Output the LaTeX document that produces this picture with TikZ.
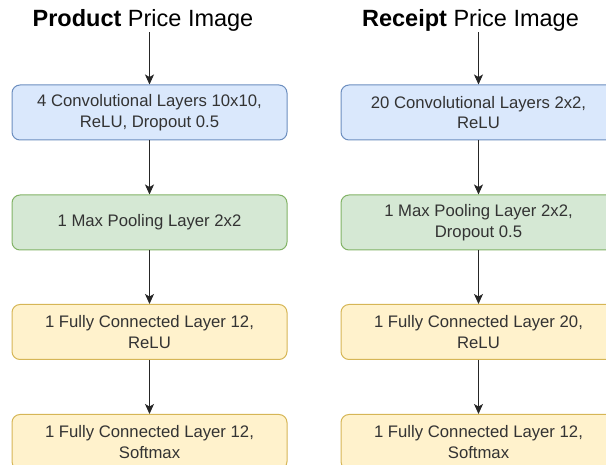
\documentclass[tikz,border=0pt]{standalone}
\usepackage{fontspec}
\setmainfont{Liberation Sans}
\usetikzlibrary{arrows.meta}
\definecolor{txt}{HTML}{333333}
\definecolor{bluefill}{HTML}{DAE8FC}
\definecolor{bluedraw}{HTML}{6C8EBF}
\definecolor{greenfill}{HTML}{D5E8D4}
\definecolor{greendraw}{HTML}{82B366}
\definecolor{yellowfill}{HTML}{FFF2CC}
\definecolor{yellowdraw}{HTML}{D6B656}
\tikzset{
  layer/.style={rectangle, rounded corners=8pt, line width=1pt, minimum width=275pt, minimum height=55pt,
    align=center, text=txt, font=\fontsize{16.7}{20.5}\selectfont, inner sep=0pt},
  bluebox/.style={layer, fill=bluefill, draw=bluedraw},
  greenbox/.style={layer, fill=greenfill, draw=greendraw},
  yellowbox/.style={layer, fill=yellowfill, draw=yellowdraw},
  title/.style={anchor=base, inner sep=0pt, text=black, font=\fontsize{23.5}{27}\selectfont},
  arr/.style={line width=1pt, draw=black!85, -{Stealth[length=10pt,width=9pt,inset=2.5pt]}}
}
\begin{document}
\begin{tikzpicture}[x=1pt,y=1pt]
\clip (0,0) rectangle (606,-465);
% titles
\node[title] (t1) at (143,-27) {\textbf{Product} Price Image};
\node[title] (t2) at (470.5,-27) {\textbf{Receipt} Price Image};
% left column
\node[bluebox] (l1) at (149.5,-112.5) {4 Convolutional Layers 10x10,\\ReLU, Dropout 0.5};
\node[greenbox] (l2) at (149.5,-222.5) {1 Max Pooling Layer 2x2};
\node[yellowbox] (l3) at (149.5,-332) {1 Fully Connected Layer 12,\\ReLU};
\node[yellowbox] (l4) at (149.5,-442) {1 Fully Connected Layer 12,\\Softmax};
% right column
\node[bluebox] (r1) at (478.5,-112.5) {20 Convolutional Layers 2x2,\\ReLU};
\node[greenbox] (r2) at (478.5,-222.5) {1 Max Pooling Layer 2x2,\\Dropout 0.5};
\node[yellowbox] (r3) at (478.5,-332) {1 Fully Connected Layer 20,\\ReLU};
\node[yellowbox] (r4) at (478.5,-442) {1 Fully Connected Layer 12,\\Softmax};
% arrows
\draw[arr] (t1.south -| l1.north) -- (l1.north);
\draw[arr] (l1) -- (l2);
\draw[arr] (l2) -- (l3);
\draw[arr] (l3) -- (l4);
\draw[arr] (t2.south -| r1.north) -- (r1.north);
\draw[arr] (r1) -- (r2);
\draw[arr] (r2) -- (r3);
\draw[arr] (r3) -- (r4);
\end{tikzpicture}
\end{document}
